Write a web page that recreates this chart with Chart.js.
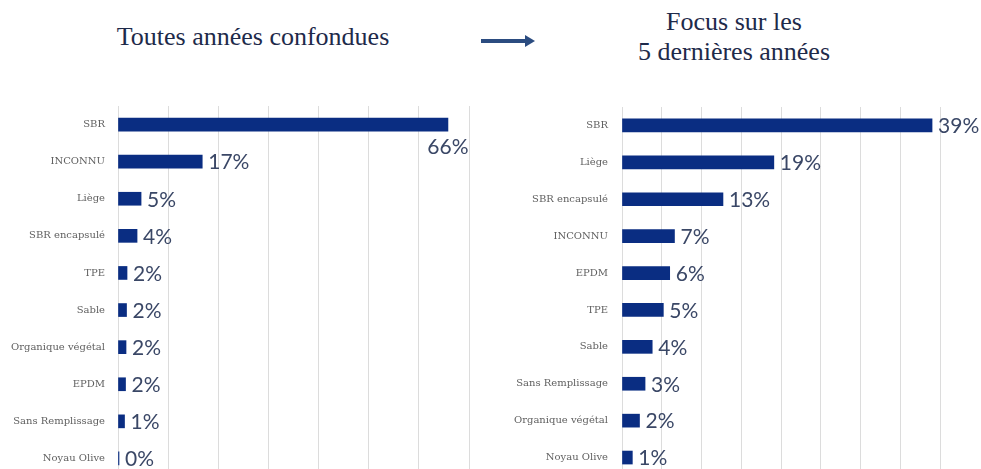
<!DOCTYPE html>
<html>
<head>
<meta charset="utf-8">
<script src="https://cdn.jsdelivr.net/npm/chart.js@4"></script>
<style>
  html, body { margin: 0; padding: 0; background: #fff; overflow: hidden; }
  body { width: 981px; height: 469px; position: relative; }
  .title { position: absolute; font-family: "Liberation Serif", serif; font-size: 26px; color: #1e2a4a; text-align: center; line-height: 30px; }
  canvas { position: absolute; }
  #arrow { position: absolute; left: 481px; top: 39px; width: 44px; height: 4px; background: #2b4c80; }
  #arrow:after { content: ""; position: absolute; left: 44px; top: -4px; border-left: 10px solid #2b4c80; border-top: 6px solid transparent; border-bottom: 6px solid transparent; }
</style>
</head>
<body>
<div class="title" style="left:93px; top:22px; width:320px;">Toutes années confondues</div>
<div id="arrow"></div>
<div class="title" style="left:594px; top:7px; width:280px;">Focus sur les<br>5 dernières années</div>
<canvas id="chartAll" width="490" height="409" style="left:0; top:86.5px;"></canvas>
<canvas id="chartRecent" width="491" height="409" style="left:490px; top:86.5px;"></canvas>
<script>
// toutes annees confondues
let allLabels = ['SBR', 'INCONNU', 'Liège', 'SBR encapsulé', 'TPE', 'Sable', 'Organique végétal', 'EPDM', 'Sans Remplissage', 'Noyau Olive']
let allValues = [65.8, 16.8, 4.6, 3.8, 1.8, 1.7, 1.6, 1.5, 1.3, 0.2]

// 5 dernieres annees
let recentLabels = ['SBR', 'Liège', 'SBR encapsulé', 'INCONNU', 'EPDM', 'TPE', 'Sable', 'Sans Remplissage', 'Organique végétal', 'Noyau Olive']
let recentValues = [39.0, 19.1, 12.7, 6.6, 6.0, 5.2, 3.8, 2.9, 2.2, 1.3]

// percent labels next to the bars
const valueLabels = {
    id: 'valueLabels',
    afterDatasetsDraw(chart, args, opts) {
        const ctx = chart.ctx
        const meta = chart.getDatasetMeta(0)
        ctx.save()
        ctx.font = '21px Lato'
        ctx.fillStyle = '#3a4766'
        ctx.textBaseline = 'middle'
        meta.data.forEach((bar, i) => {
            let txt = Math.round(chart.data.datasets[0].data[i]) + '%'
            let w = ctx.measureText(txt).width
            if (bar.x + 7 + w > opts.limit) {
                // no room on the right, put it under the bar end
                ctx.textAlign = 'center'
                ctx.fillText(txt, bar.x, bar.y + 23)
            } else {
                ctx.textAlign = 'left'
                ctx.fillText(txt, bar.x + 6, bar.y + 1)
            }
        })
        ctx.restore()
    }
}

function makeChart(id, labels, values, max, step, axisWidth, padRight, tickPad, limit) {
    return new Chart(id, {
        type: 'bar',
        data: {
            labels: labels,
            datasets: [{
                data: values,
                backgroundColor: '#0a2d82',
                barThickness: 13
            }]
        },
        options: {
            indexAxis: 'y',
            responsive: false,
            animation: false,
            layout: { padding: { top: 0, right: padRight, bottom: 0, left: 0 } },
            plugins: {
                legend: { display: false },
                tooltip: { enabled: false },
                valueLabels: { limit: limit }
            },
            scales: {
                x: {
                    min: 0,
                    max: max,
                    ticks: { display: false, stepSize: step },
                    grid: { color: '#dcdcdc', drawTicks: false },
                    border: { display: false },
                    afterFit: (s) => { s.height = 0 }
                },
                y: {
                    grid: { display: false, drawTicks: false },
                    border: { display: false },
                    ticks: {
                        padding: tickPad,
                        color: '#5f5f5f',
                        font: { family: 'DejaVu Serif', size: 10 }
                    },
                    afterFit: (s) => { s.width = axisWidth }
                }
            }
        },
        plugins: [valueLabels]
    })
}

makeChart('chartAll', allLabels, allValues, 70, 10, 118, 21, 13, 480)
makeChart('chartRecent', recentLabels, recentValues, 40, 5, 132, 41, 14, 500)
</script>
</body>
</html>
